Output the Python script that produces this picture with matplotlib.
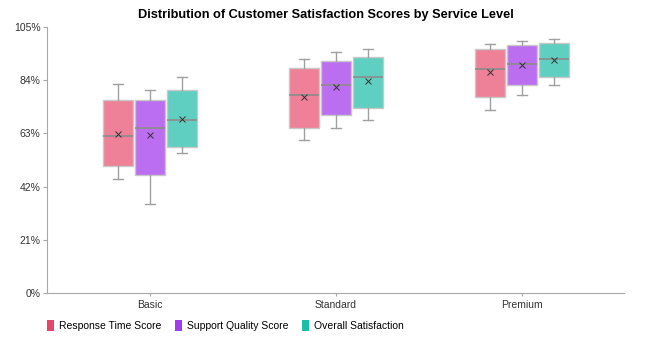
import numpy as np
import matplotlib
matplotlib.use("Agg")
import matplotlib.pyplot as plt
from matplotlib.patches import Patch
from matplotlib.ticker import FuncFormatter

plt.rcParams["font.family"] = ["Liberation Sans", "DejaVu Sans"]

levels = ["Basic", "Standard", "Premium"]
series = ["Response Time Score", "Support Quality Score", "Overall Satisfaction"]
fills = ["#EE8097", "#BC6EF0", "#5ECFC0"]
solid = ["#E5476A", "#A23CF0", "#1CBFA6"]

# per series, per level: whisker low, q1, median, q3, whisker high, mean
whislo = [[45.1, 60.3, 72.2], [35.1, 65.3, 78.2], [55.1, 68.3, 82.2]]
q1     = [[50.3, 65.3, 77.3], [46.7, 70.3, 82.2], [57.6, 73.2, 85.3]]
med    = [[62.1, 78.3, 88.3], [65.3, 82.2, 90.3], [68.3, 85.1, 92.2]]
q3     = [[76.2, 88.7, 96.2], [76.2, 91.7, 97.8], [80.3, 93.3, 98.8]]
whishi = [[82.4, 92.2, 98.3], [80.3, 95.3, 99.3], [85.3, 96.3, 100.4]]
means  = [[62.8, 77.4, 87.1], [62.2, 81.2, 89.9], [68.8, 83.7, 92.1]]

yticks = [0, 21, 42, 63, 84, 105]

fig = plt.figure(figsize=(6.5, 3.43), dpi=100)
ax = fig.add_axes([0.0723, 0.1458, 0.8877, 0.7755])

offsets = [-0.172, 0.0, 0.172]
width = 0.161
x = np.arange(len(levels))
for s in range(len(series)):
    stats = []
    for i in range(len(levels)):
        stats.append(dict(whislo=whislo[s][i], q1=q1[s][i], med=med[s][i],
                          q3=q3[s][i], whishi=whishi[s][i], mean=means[s][i]))
    ax.bxp(stats, positions=x + offsets[s], widths=width, patch_artist=True,
           showmeans=True, showfliers=False,
           boxprops=dict(facecolor=fills[s], edgecolor="#C8C8C8", linewidth=1.0),
           medianprops=dict(color="#8C8C8C", linewidth=1.2),
           whiskerprops=dict(color="#A0A0A0", linewidth=1.0),
           capprops=dict(color="#A0A0A0", linewidth=1.0),
           capwidths=width * 0.33,
           meanprops=dict(marker="x", markeredgecolor="#333333", markersize=4,
                          markeredgewidth=0.7))

ax.set_xlim(-0.553, 2.548)
ax.set_ylim(0, 105)
ax.set_yticks(yticks)
ax.yaxis.set_major_formatter(FuncFormatter(lambda v, p: f"{v:.0f}%"))
ax.set_xticks(x)
ax.set_xticklabels(levels)
for sp in ["top", "right"]:
    ax.spines[sp].set_visible(False)
for sp in ["left", "bottom"]:
    ax.spines[sp].set_color("#A8A8A8")
ax.tick_params(axis="both", labelsize=7.5, colors="#A8A8A8", labelcolor="#333333",
               length=3, width=0.8, pad=1.5)
ax.tick_params(axis="x", length=2, pad=3)

fig.suptitle("Distribution of Customer Satisfaction Scores by Service Level",
             x=0.502, y=0.975, va="top", fontsize=9.2, fontweight="bold")

handles = [Patch(facecolor=c, edgecolor="none") for c in solid]
fig.legend(handles, series, loc="lower left", bbox_to_anchor=(0.058, 0.008),
           ncol=3, frameon=False, fontsize=7.5, handlelength=0.65, handleheight=1.3,
           handletextpad=0.5, columnspacing=1.3)

fig.savefig("out.png", dpi=100)
